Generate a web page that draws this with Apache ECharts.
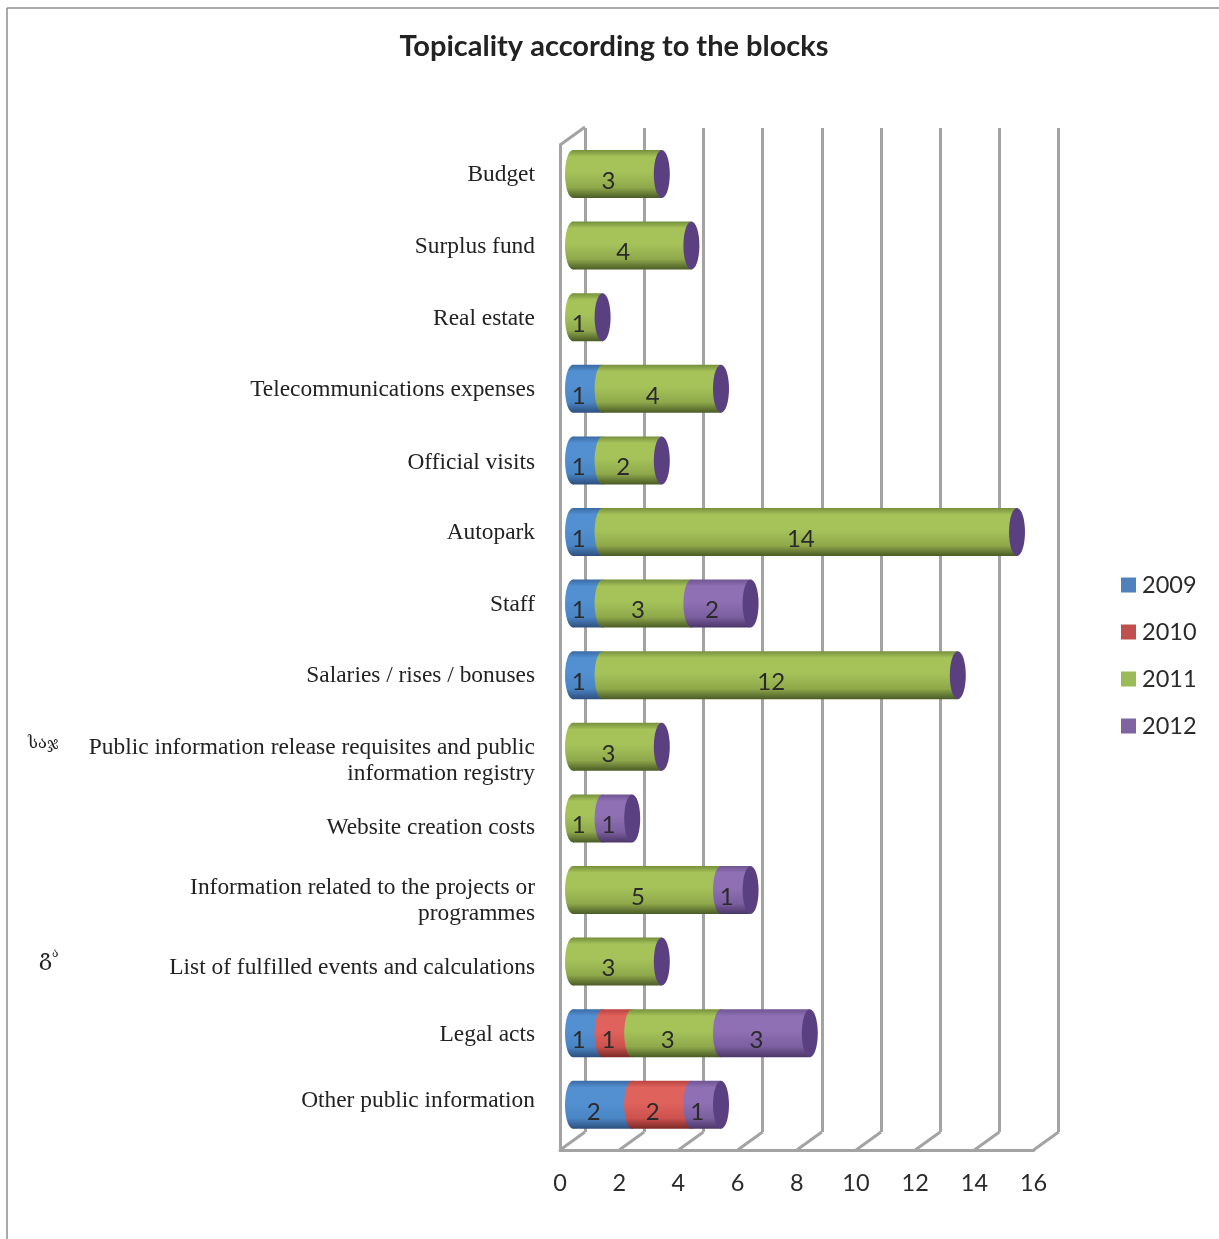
<!DOCTYPE html>
<html><head><meta charset="utf-8">
<style>html,body{margin:0;padding:0;background:#fff}#c{width:1219px;height:1239px}</style>
<script src="https://cdn.jsdelivr.net/npm/echarts@6/dist/echarts.min.js"></script>
</head><body><div id="c"></div>
<script>
const categories = [
  'Budget','Surplus fund','Real estate','Telecommunications expenses','Official visits','Autopark','Staff',
  'Salaries / rises / bonuses','Public information release requisites and public\ninformation registry',
  'Website creation costs','Information related to the projects or\nprogrammes','List of fulfilled events and calculations',
  'Legal acts','Other public information'];
const labelShift = [1,1,2,1,2,1,1,1,14,9,11,6,2,-4];
const y2009 = [0,0,0,1,1,1,1,1,0,0,0,0,1,2];
const y2010 = [0,0,0,0,0,0,0,0,0,0,0,0,1,2];
const y2011 = [3,4,1,4,2,14,3,12,3,1,5,3,3,0];
const y2012 = [0,0,0,0,0,0,2,0,0,1,1,0,3,1];
const xTicks = [0,2,4,6,8,10,12,14,16];
const years = ['2009','2010','2011','2012'];
const swatch = ['#4f81bd','#c0504d','#9bbb59','#8064a2'];
const shades = [
  ['#3b6aa3','#5290d2','#4a85c4','#2e4f7e'],
  ['#b84440','#e0625c','#cc524d','#7a2a28'],
  ['#758f3c','#a6c35a','#8fa94b','#4a5b26'],
  ['#6f5492','#8f70b4','#7b5f9f','#4b3668']];
const capColor = '#5a4080';
const seriesValues = [y2009,y2010,y2011,y2012];

const X0=560, UNIT=29.6, DX=25, DY=18, FLOOR=1150, BARX=573, TOP=138.2, H=1002.4, RX=8, RY=24;
const gray='#a3a3a3';

function rows(si){
  return categories.map((c,i)=>{
    let s=0; for(let k=0;k<si;k++) s+=seriesValues[k][i];
    return [i,s,s+seriesValues[si][i],seriesValues[si][i]];
  });
}
function renderSeg(si){
  return function(params,api){
    const i=api.value(0), a=api.value(1), b=api.value(2), v=api.value(3);
    const p0=api.coord([a,i]), p1=api.coord([b,i]);
    const y=p0[1];
    const fill={type:'linear',x:0,y:0,x2:0,y2:1,colorStops:[
      {offset:0,color:shades[si][0]},{offset:.14,color:shades[si][1]},{offset:.45,color:shades[si][1]},
      {offset:.78,color:shades[si][2]},{offset:1,color:shades[si][3]}]};
    const ch=[];
    if(v>0){
      ch.push({type:'rect',shape:{x:p0[0],y:y-RY,width:p1[0]-p0[0],height:RY*2},style:{fill}});
      ch.push({type:'ellipse',shape:{cx:p0[0],cy:y,rx:RX,ry:RY},style:{fill}});
    }
    if(si===3) ch.push({type:'ellipse',shape:{cx:p1[0],cy:y,rx:RX,ry:RY},style:{fill:capColor},z2:5});
    if(v>0) ch.push({type:'text',z2:10,style:{text:String(v),x:(p0[0]+p1[0])/2-9,y:y+7,align:'center',verticalAlign:'middle',
      font:'24px Lato',fill:'#2a2a2a'}});
    return {type:'group',children:ch};
  };
}
const segSeries = years.map((name,si)=>({
  name,type:'custom',xAxisIndex:2,yAxisIndex:2,z:5,
  itemStyle:{color:swatch[si]},
  encode:{x:[1,2],y:0},
  renderItem:renderSeg(si),data:rows(si)
}));
const floorSeries={
  type:'custom',xAxisIndex:0,yAxisIndex:0,z:2,silent:true,
  renderItem(params,api){
    const p=api.coord([api.value(0),0]);
    return {type:'line',shape:{x1:p[0],y1:p[1],x2:p[0]+DX,y2:p[1]-DY},style:{stroke:gray,lineWidth:3}};
  },
  data:xTicks.map(t=>[t])
};
const cornerSeries={
  type:'custom',xAxisIndex:0,yAxisIndex:0,z:2,silent:true,
  renderItem(params,api){
    const p=api.coord([0,1]);
    return {type:'line',shape:{x1:p[0],y1:p[1],x2:p[0]+DX,y2:p[1]-DY},style:{stroke:gray,lineWidth:3}};
  },
  data:[[0]]
};
const labelFont={fontFamily:'Liberation Serif',fontSize:23.4,lineHeight:26,color:'#222',align:'right'};
const rich={t:labelFont};
labelShift.forEach(s=>{ rich['g'+Math.abs(s)]={fontSize:1,lineHeight:Math.abs(s)*2,height:Math.abs(s)*2}; });
function formatLabel(value){
  const i=categories.indexOf(value), s=labelShift[i];
  const body=value.split('\n').map(l=>'{t|'+l+'}').join('\n');
  const gap='{g'+Math.abs(s)+'| }';
  return s>0 ? gap+'\n'+body : body+'\n'+gap;
}
const chart=echarts.init(document.getElementById('c'));
chart.setOption({
  animation:false,backgroundColor:'#fff',
  title:{text:'Topicality according to the blocks',left:609,top:27,textAlign:'center',
    textStyle:{fontFamily:'Lato',fontWeight:'bold',fontSize:29,color:'#222'}},
  legend:{orient:'vertical',left:1116,top:568,itemWidth:15,itemHeight:15,itemGap:23,icon:'rect',
    data:years,textStyle:{fontFamily:'Lato',fontSize:23.5,color:'#2a2a2a',padding:[0,0,0,1]}},
  grid:[
    {left:X0,top:FLOOR-1005,width:UNIT*16,height:1005},
    {left:X0+DX,top:128,width:UNIT*16,height:FLOOR-DY-128},
    {left:BARX,top:TOP,width:UNIT*16,height:H}
  ],
  xAxis:[
    {gridIndex:0,type:'value',min:0,max:16,interval:2,axisLine:{show:true,onZero:false,lineStyle:{color:gray,width:3}},axisTick:{show:false},
      splitLine:{show:false},axisLabel:{margin:21,fontFamily:'Lato',fontSize:23.5,color:'#2a2a2a',formatter:v=>String(v)}},
    {gridIndex:1,type:'value',min:0,max:16,interval:2,axisLine:{show:false},axisTick:{show:false},axisLabel:{show:false},
      splitLine:{show:true,lineStyle:{color:gray,width:3}}},
    {gridIndex:2,type:'value',min:0,max:16,interval:2,show:false}
  ],
  yAxis:[
    {gridIndex:0,type:'value',min:0,max:1,axisLine:{show:true,lineStyle:{color:gray,width:3}},axisTick:{show:false},axisLabel:{show:false},splitLine:{show:false}},
    {gridIndex:1,type:'value',min:0,max:1,show:false},
    {gridIndex:2,type:'category',inverse:true,data:categories,
      axisLine:{show:false},axisTick:{show:false},splitLine:{show:false},
      axisLabel:{interval:0,margin:38,align:'right',formatter:formatLabel,rich}}
  ],
  graphic:[
    {type:'line',silent:true,shape:{x1:7,y1:8,x2:7,y2:1239},style:{stroke:'#8c8c8c',lineWidth:1.5}},
    {type:'line',silent:true,shape:{x1:7,y1:8,x2:1219,y2:8},style:{stroke:'#8c8c8c',lineWidth:1.5}},
    {type:'text',left:28,top:735,style:{text:'საჯ',font:'16.5px "DejaVu Serif"',fill:'#222'}},
    {type:'text',left:39,top:948,style:{text:'{a|გ}{b|ა}',rich:{a:{font:'22px "DejaVu Serif"',fill:'#222'},b:{font:'12px "DejaVu Serif"',fill:'#222',verticalAlign:'top'}}}}
  ],
  series:[floorSeries,cornerSeries,...segSeries]
});
</script></body></html>
